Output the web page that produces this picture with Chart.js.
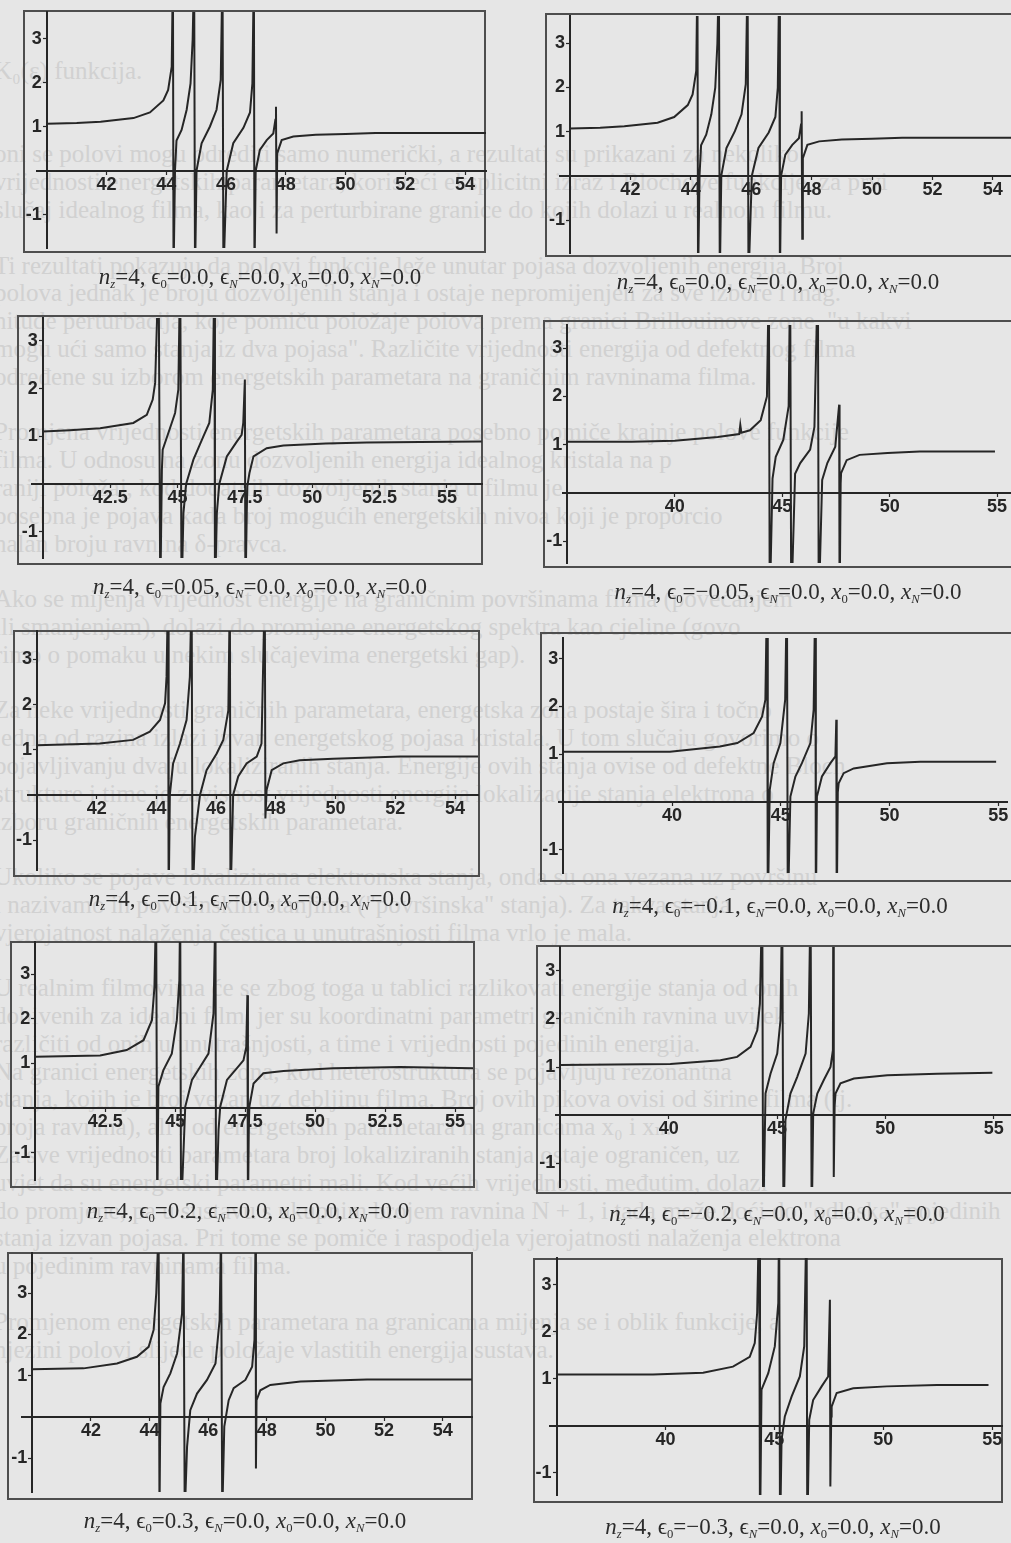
<!DOCTYPE html>
<html>
<head>
<meta charset="utf-8">
<title>Polovi funkcije za n_z = 4</title>
<script src="https://cdn.jsdelivr.net/npm/chart.js@4.4.1/dist/chart.umd.min.js"></script>
<style>
  html, body { margin: 0; padding: 0; width: 1011px; height: 1543px; overflow: hidden; background: #e6e6e6; }
  #page { position: relative; width: 1011px; height: 1543px; overflow: hidden; }
  #bgtext { position: absolute; left: -6px; top: 57px; width: 1060px; font: 25px "Liberation Serif", "DejaVu Serif", serif;
            color: #d1d1d1; white-space: nowrap; }
  #bgtext div { height: 27.8px; line-height: 27.8px; overflow: visible; }
  .frame { position: absolute; border: 2px solid #4e4e4e; box-sizing: border-box; }
  .panel { position: absolute; }
  .cap { position: absolute; transform: translateX(-50%); font: 23px "Liberation Serif", "DejaVu Serif", serif;
         color: #2c2c2c; white-space: nowrap; line-height: 26px; }
  .cap sub { font-size: 0.55em; vertical-align: -0.3em; line-height: 0; }
</style>
</head>
<body>
<div id="page">
  <div id="bgtext"></div>
</div>
<script>
// Curves y(ε) for n_z = 4, one array per value of ε0. Values of ±(large) mark
// where the function runs off to infinity at a pole.
const eps0_000 = [
  [40.0, 1.07], [41.0, 1.09], [41.8, 1.12], [42.9, 1.2], [43.45, 1.33], [43.9, 1.6], [44.06, 1.84], [44.18, 2.37], [44.22, 4.6],
  [44.24, -2.4], [44.29, 0.02], [44.34, 0.69], [44.51, 0.93], [44.68, 1.39], [44.81, 1.99], [44.88, 2.98], [44.93, 4.6],
  [44.96, -2.4], [45.01, 0.01], [45.18, 0.63], [45.46, 1.01], [45.68, 1.39], [45.82, 2.07], [45.88, 4.6],
  [45.91, -2.4], [46.02, 0.0], [46.24, 0.63], [46.58, 0.98], [46.8, 1.33], [46.88, 1.99], [46.93, 4.6],
  [46.95, -2.4], [46.99, 0.0], [47.13, 0.48], [47.36, 0.7], [47.58, 0.85], [47.65, 1.16], [47.67, 1.46], [47.69, -1.42], [47.71, 0.4],
  [47.86, 0.7], [48.25, 0.78], [49.0, 0.82], [50.0, 0.84], [51.0, 0.86], [53.0, 0.86], [54.7, 0.86]
];
const eps0_p005 = [
  [40.0, 1.1], [41.0, 1.13], [42.13, 1.17], [43.36, 1.28], [43.86, 1.45], [44.08, 1.77], [44.17, 2.12], [44.3, 4.6],
  [44.36, -2.4], [44.42, 0.3], [44.45, 0.72], [44.66, 1.07], [44.91, 1.49], [45.03, 1.98], [45.1, 4.6],
  [45.15, -2.4], [45.22, -0.61], [45.32, 0.0], [45.59, 0.51], [45.96, 1.0], [46.18, 1.28], [46.31, 1.98], [46.37, 4.6],
  [46.39, -2.4], [46.46, -0.61], [46.55, 0.0], [46.83, 0.58], [47.2, 0.89], [47.38, 1.03], [47.44, 1.28], [47.5, 2.19], [47.52, -2.4],
  [47.57, -0.6], [47.59, -0.05], [47.67, 0.23], [47.82, 0.58], [48.31, 0.75], [48.93, 0.81], [50.5, 0.85], [52.02, 0.87], [54.0, 0.88], [56.29, 0.89]
];
const eps0_m005 = [
  [35.0, 1.06], [38.0, 1.06], [40.0, 1.08], [42.0, 1.16], [43.0, 1.22], [43.05, 1.41], [43.1, 1.25], [43.5, 1.3], [44.0, 1.51], [44.29, 2.0], [44.38, 4.6],
  [44.42, -2.4], [44.55, 0.3], [44.7, 0.75], [45.05, 1.1], [45.3, 1.8], [45.37, 4.6],
  [45.42, -2.4], [45.6, 0.4], [45.84, 0.62], [46.3, 0.9], [46.5, 1.37], [46.66, 4.6],
  [46.7, -2.4], [46.86, 0.27], [47.1, 0.62], [47.47, 0.96], [47.65, 1.83], [47.67, -2.4],
  [47.72, 0.2], [47.74, 0.41], [48.0, 0.68], [48.6, 0.79], [49.9, 0.83], [51.4, 0.86], [53.0, 0.86], [54.9, 0.86]
];
const eps0_p010 = [
  [40.0, 1.1], [42.1, 1.14], [43.22, 1.22], [43.78, 1.4], [44.12, 1.66], [44.29, 2.03], [44.34, 2.62], [44.39, 4.6],
  [44.41, -2.4], [44.45, 0.0], [44.56, 0.7], [44.79, 1.14], [45.01, 1.66], [45.12, 2.61], [45.18, 4.6],
  [45.21, -2.4], [45.29, -0.92], [45.46, 0.0], [45.68, 0.55], [46.02, 0.92], [46.24, 1.22], [46.41, 1.88], [46.46, 4.6],
  [46.48, -2.4], [46.57, 0.0], [46.74, 0.41], [47.02, 0.7], [47.36, 0.85], [47.52, 1.14], [47.63, 4.6],
  [47.65, -0.52], [47.69, 0.11], [47.86, 0.55], [48.25, 0.7], [48.8, 0.77], [49.92, 0.8], [52.16, 0.85], [54.77, 0.85]
];
const eps0_m010 = [
  [35.0, 1.05], [37.5, 1.05], [39.9, 1.05], [42.2, 1.16], [43.0, 1.23], [43.75, 1.44], [44.14, 1.79], [44.29, 2.14], [44.37, 4.6],
  [44.4, -2.4], [44.49, 0.25], [44.67, 0.81], [44.98, 1.23], [45.2, 2.14], [45.28, 4.6],
  [45.32, -2.4], [45.44, 0.11], [45.67, 0.53], [45.97, 0.81], [46.36, 1.23], [46.51, 1.93], [46.59, 4.6],
  [46.61, -2.4], [46.66, 0.11], [46.89, 0.53], [47.28, 0.81], [47.51, 0.95], [47.55, 1.72], [47.57, -2.4],
  [47.62, 0.2], [47.66, 0.39], [47.89, 0.6], [48.35, 0.7], [49.88, 0.81], [51.41, 0.84], [53.0, 0.84], [54.9, 0.84]
];
const eps0_p020 = [
  [40.0, 1.15], [42.32, 1.18], [43.27, 1.3], [43.87, 1.52], [44.17, 1.97], [44.26, 2.71], [44.32, 4.6],
  [44.36, -2.4], [44.4, 0.48], [44.58, 0.85], [44.88, 1.22], [45.06, 1.97], [45.15, 2.86], [45.18, 4.6],
  [45.21, -2.4], [45.36, 0.03], [45.6, 0.63], [45.89, 0.92], [46.19, 1.22], [46.37, 2.12], [46.44, 4.6],
  [46.46, -2.4], [46.55, -0.49], [46.61, 0.03], [46.85, 0.63], [47.2, 0.89], [47.44, 1.07], [47.54, 1.37], [47.58, 2.53], [47.6, -2.4],
  [47.63, -0.5], [47.65, 0.03], [47.8, 0.55], [48.15, 0.78], [48.87, 0.83], [50.65, 0.89], [53.04, 0.92], [55.65, 0.89]
];
const eps0_m020 = [
  [35.0, 1.04], [37.5, 1.05], [40.08, 1.06], [42.39, 1.14], [43.16, 1.21], [43.78, 1.42], [44.09, 1.76], [44.21, 2.31], [44.32, 4.6],
  [44.36, -2.4], [44.47, 0.45], [44.7, 0.86], [45.01, 1.28], [45.16, 1.97], [45.24, 4.6],
  [45.3, -2.4], [45.39, -0.1], [45.62, 0.45], [45.93, 0.79], [46.32, 1.28], [46.47, 2.11], [46.55, 4.6],
  [46.6, -2.4], [46.67, 0.03], [46.86, 0.45], [47.16, 0.73], [47.47, 1.0], [47.58, 1.35], [47.6, 4.6],
  [47.62, -1.28], [47.66, 0.2], [47.7, 0.45], [47.93, 0.66], [48.55, 0.76], [50.09, 0.83], [52.4, 0.86], [54.94, 0.88]
];
const eps0_p030 = [
  [40.0, 1.16], [41.75, 1.18], [42.89, 1.3], [43.57, 1.46], [43.97, 1.7], [44.14, 2.11], [44.23, 3.0], [44.31, 4.6],
  [44.34, -2.4], [44.37, 0.33], [44.48, 0.73], [44.71, 1.06], [44.94, 1.54], [45.11, 2.51], [45.16, 4.6],
  [45.2, -2.4], [45.28, -0.72], [45.39, 0.17], [45.62, 0.57], [45.96, 0.9], [46.25, 1.3], [46.39, 2.35], [46.44, 4.6],
  [46.48, -2.4], [46.55, -0.23], [46.7, 0.41], [46.87, 0.7], [47.27, 0.9], [47.5, 1.22], [47.58, 1.87], [47.62, 4.6],
  [47.63, -1.24], [47.65, 0.41], [47.78, 0.65], [48.12, 0.78], [49.15, 0.86], [51.42, 0.91], [53.5, 0.91], [55.0, 0.91]
];
const eps0_m030 = [
  [35.0, 1.09], [37.5, 1.09], [39.43, 1.09], [41.73, 1.13], [43.1, 1.26], [43.87, 1.47], [44.1, 1.76], [44.21, 2.4], [44.3, 4.6],
  [44.34, -2.4], [44.41, 0.77], [44.72, 1.12], [45.02, 1.69], [45.18, 2.61], [45.22, 4.6],
  [45.26, -2.4], [45.33, -0.3], [45.48, 0.2], [45.79, 0.62], [46.17, 1.05], [46.37, 1.69], [46.48, 4.6],
  [46.51, -2.4], [46.6, 0.13], [46.78, 0.55], [47.17, 0.84], [47.47, 1.05], [47.55, 2.68], [47.57, -1.29],
  [47.61, 0.2], [47.63, 0.41], [47.86, 0.7], [48.62, 0.8], [50.16, 0.84], [52.46, 0.87], [54.83, 0.87]
];

// Tick labels
const xTicksBy2 = [42, 44, 46, 48, 50, 52, 54];
const xTicksBy25 = [42.5, 45, 47.5, 50, 52.5, 55];
const xTicksBy5 = [40, 45, 50, 55];
const yTicks = [-1, 1, 2, 3];

// Parameter values shown under each panel
const nz = '4';
const eps0Labels = ['0.0', '0.0', '0.05', '\u22120.05', '0.1', '\u22120.1', '0.2', '\u22120.2', '0.3', '\u22120.3'];
const epsN = '0.0', x0 = '0.0', xN = '0.0';

// Faint running text of the page behind the figures
const pageLines = [
  'K\u2080(\u03b5) funkcija.',
  '',
  '',
  'oni se polovi mogu odrediti samo numerički, a rezultati su prikazani za nekoliko',
  'vrijednosti energetskih parametara, koristeći eksplicitni izraz i Blochove funkcije, za prvi',
  'slučaj idealnog filma, kao i za perturbirane granice do kojih dolazi u realnom filmu.',
  '',
  'Ti rezultati pokazuju da polovi funkcije leže unutar pojasa dozvoljenih energija. Broj',
  'polova jednak je broju dozvoljenih stanja i ostaje nepromijenjen za sve izbore i mag.',
  'nitude perturbacija, koje pomiču položaje polova prema granici Brillouinove zone, "u kakvi',
  'mogu ući samo stanja iz dva pojasa". Različite vrijednosti energija od defektnog filma',
  'određene su izborom energetskih parametara na graničnim ravninama filma.',
  '',
  'Promjena vrijednosti energetskih parametara posebno pomiče krajnje polove funkcije',
  'filma. U odnosu na zonu dozvoljenih energija idealnog kristala na p',
  'raniji položaj, kod dodatnih dozvoljenih stanja u filmu je',
  'posebna je pojava kada broj mogućih energetskih nivoa koji je proporcio',
  'nalan broju ravnina δ-pravca.',
  '',
  'Ako se mijenja vrijednost energije na graničnim površinama filma (povećanjem',
  'ili smanjenjem), dolazi do promjene energetskog spektra kao cjeline (govo',
  'rimo o pomaku u nekim slučajevima energetski gap).',
  '',
  'Za neke vrijednosti graničnih parametara, energetska zona postaje šira i točno',
  'jedna od razina izlazi izvan energetskog pojasa kristala. U tom slučaju govorimo o',
  'pojavljivanju dvaju lokaliziranih stanja. Energije ovih stanja ovise od defektne Bloch',
  'strukture i time je zavisnost vrijednosti energija lokalizacije stanja elektrona o',
  'izboru graničnih energetskih parametara.',
  '',
  'Ukoliko se pojave lokalizirana elektronska stanja, onda su ona vezana uz površinu',
  'i nazivamo ih površinskim stanjima ("površinska" stanja). Za takva stanja',
  'vjerojatnost nalaženja čestica u unutrašnjosti filma vrlo je mala.',
  '',
  'U realnim filmovima će se zbog toga u tablici razlikovati energije stanja od onih',
  'dobivenih za idealni film, jer su koordinatni parametri graničnih ravnina uvijek',
  'različiti od onih u unutrašnjosti, a time i vrijednosti pojedinih energija.',
  'Na granici energetskih zona, kod heterostruktura se pojavljuju rezonantna',
  'stanja, kojih je broj vezan uz debljinu filma. Broj ovih pikova ovisi od širine filma (tj.',
  'broja ravnina), ali i od energetskih parametara na granicama x\u2080 i x\u2099.',
  'Za sve vrijednosti parametara broj lokaliziranih stanja ostaje ograničen, uz',
  'uvjet da su energetski parametri mali. Kod većih vrijednosti, međutim, dolazi',
  'do promjene, pa u sustavu s ukupnim brojem ravnina N + 1, i tada može doći do "odlaska" pojedinih',
  'stanja izvan pojasa. Pri tome se pomiče i raspodjela vjerojatnosti nalaženja elektrona',
  'u pojedinim ravninama filma.',
  '',
  'Promjenom energetskih parametara na granicama mijenja se i oblik funkcije, a',
  'njezini polovi slijede položaje vlastitih energija sustava.'
];

// Placement of each graph on the page: plot area (left, top, right, bottom),
// axis ranges, where the axes cross, the outer frame and the caption centre.
const layout = [
  { data: eps0_000,  ticks: xTicksBy2,  area: [37, 12, 486, 248],      x: [39.67, 54.7], y: [-1.75, 3.61], ox: 40, frame: [23, 10, 486, 253],    cap: [260, 278] },
  { data: eps0_000,  ticks: xTicksBy2,  area: [560, 16, 1014, 253],    x: [39.67, 54.7], y: [-1.74, 3.61], ox: 40, frame: [545, 13, 1040, 257],  cap: [778, 283] },
  { data: eps0_p005, ticks: xTicksBy25, area: [32, 318, 482, 558],     x: [39.6, 56.3],  y: [-1.55, 3.48], ox: 40, frame: [17, 315, 483, 565],   cap: [260, 588] },
  { data: eps0_m005, ticks: xTicksBy5,  area: [563, 325, 1010, 563],   x: [34.8, 55.6],  y: [-1.45, 3.48], ox: 35, frame: [543, 320, 1040, 568], cap: [788, 593] },
  { data: eps0_p010, ticks: xTicksBy2,  area: [28, 631, 478, 870],     x: [39.7, 54.77], y: [-1.66, 3.63], ox: 40, frame: [13, 630, 480, 877],   cap: [250, 900] },
  { data: eps0_m010, ticks: xTicksBy5,  area: [559, 638, 1007, 873],   x: [34.8, 55.4],  y: [-1.49, 3.43], ox: 35, frame: [540, 632, 1040, 882], cap: [780, 907] },
  { data: eps0_p020, ticks: xTicksBy25, area: [24, 942, 473, 1180],    x: [39.6, 55.64], y: [-1.61, 3.72], ox: 40, frame: [10, 941, 475, 1188],  cap: [248, 1212] },
  { data: eps0_m020, ticks: xTicksBy5,  area: [556, 947, 1011, 1187],  x: [34.8, 55.8],  y: [-1.49, 3.49], ox: 35, frame: [536, 945, 1040, 1194], cap: [777, 1215] },
  { data: eps0_p030, ticks: xTicksBy2,  area: [22, 1253, 472, 1492],   x: [39.65, 55.0], y: [-1.81, 3.97], ox: 40, frame: [7, 1252, 473, 1500],  cap: [245, 1522] },
  { data: eps0_m030, ticks: xTicksBy5,  area: [550, 1258, 1002, 1495], x: [34.7, 55.45], y: [-1.47, 3.57], ox: 35, frame: [533, 1258, 1003, 1503], cap: [773, 1528] }
];

const INK = '#262626';
const PAD = 30;
const page = document.getElementById('page');

// background text
const bg = document.getElementById('bgtext');
pageLines.forEach(t => {
  const d = document.createElement('div');
  d.textContent = t || '\u00a0';
  bg.appendChild(d);
});

function captionHTML(e0) {
  return '<i>n</i><sub><i>z</i></sub>=' + nz +
         ', \u03f5<sub>0</sub>=' + e0 +
         ', \u03f5<sub><i>N</i></sub>=' + epsN +
         ', <i>x</i><sub>0</sub>=' + x0 +
         ', <i>x</i><sub><i>N</i></sub>=' + xN;
}

const tickFont = { family: '"Liberation Sans", Arial, sans-serif', weight: 'bold', size: 18 };

layout.forEach((p, i) => {
  // frame
  const f = document.createElement('div');
  f.className = 'frame';
  f.style.left = p.frame[0] + 'px';
  f.style.top = p.frame[1] + 'px';
  f.style.width = (p.frame[2] - p.frame[0]) + 'px';
  f.style.height = (p.frame[3] - p.frame[1]) + 'px';
  page.appendChild(f);

  // chart canvas: plot area plus fixed padding on all sides
  const w = p.area[2] - p.area[0] + 2 * PAD;
  const h = p.area[3] - p.area[1] + 2 * PAD;
  const c = document.createElement('canvas');
  c.className = 'panel';
  c.width = w; c.height = h;
  c.style.width = w + 'px'; c.style.height = h + 'px';
  c.style.left = (p.area[0] - PAD) + 'px';
  c.style.top = (p.area[1] - PAD) + 'px';
  page.appendChild(c);

  const xTickValues = p.ticks.filter(v => v !== p.ox);

  new Chart(c, {
    type: 'scatter',
    data: {
      datasets: [{
        data: p.data.map(([x, y]) => ({ x, y })),
        showLine: true,
        borderColor: INK,
        borderWidth: 2,
        pointRadius: 0,
        tension: 0,
        fill: false
      }]
    },
    options: {
      responsive: false,
      animation: false,
      devicePixelRatio: 1,
      layout: { padding: PAD },
      plugins: { legend: { display: false }, tooltip: { enabled: false } },
      events: [],
      scales: {
        x: {
          type: 'linear',
          min: p.x[0], max: p.x[1],
          position: { y: 0 },
          afterBuildTicks: axis => { axis.ticks = xTickValues.map(v => ({ value: v })); },
          ticks: {
            autoSkip: false, maxRotation: 0, includeBounds: false,
            padding: 0, color: INK, font: tickFont,
            callback: v => String(v)
          },
          grid: { drawOnChartArea: false, drawTicks: true, tickLength: 3, color: INK, tickWidth: 1.2 },
          border: { color: INK, width: 2 }
        },
        y: {
          type: 'linear',
          min: p.y[0], max: p.y[1],
          position: { x: p.ox },
          afterBuildTicks: axis => { axis.ticks = yTicks.map(v => ({ value: v })); },
          ticks: {
            autoSkip: false, includeBounds: false,
            color: INK, font: tickFont,
            callback: v => String(v) + ' '
          },
          grid: { drawOnChartArea: false, drawTicks: true, tickLength: 3, color: INK, tickWidth: 1.2 },
          border: { color: INK, width: 2 }
        }
      }
    }
  });

  // caption
  const cap = document.createElement('div');
  cap.className = 'cap';
  cap.innerHTML = captionHTML(eps0Labels[i]);
  cap.style.left = p.cap[0] + 'px';
  cap.style.top = (p.cap[1] - 14) + 'px';
  page.appendChild(cap);
});
</script>
</body>
</html>
